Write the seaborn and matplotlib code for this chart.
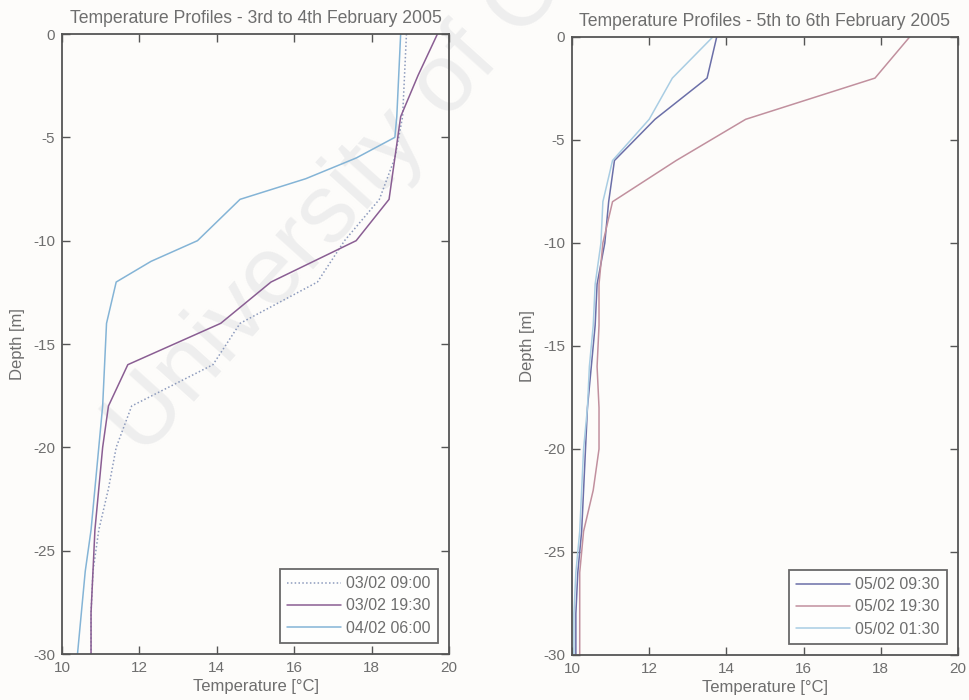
import numpy as np
import pandas as pd
import matplotlib
matplotlib.use("Agg")
import matplotlib.pyplot as plt
import seaborn as sns

# ---------------- data ----------------
depth = [0, -2, -4, -6, -8, -10, -12, -14, -16, -18, -20, -22, -24, -26, -28, -30]
depth_b = [0, -2, -4, -5, -6, -7, -8, -10, -11, -12, -14, -16, -18, -20, -22, -24, -26, -28, -30]

left_labels = ["03/02 09:00", "03/02 19:30", "04/02 06:00"]
t_0302_0900 = [18.9, 18.85, 18.8, 18.6, 18.2, 17.3, 16.6, 14.6, 13.9, 11.8, 11.4, 11.2, 10.95, 10.8, 10.75, 10.75]
t_0302_1930 = [19.7, 19.2, 18.75, 18.6, 18.45, 17.6, 15.4, 14.1, 11.7, 11.2, 11.05, 10.95, 10.85, 10.8, 10.75, 10.75]
t_0402_0600 = [18.75, 18.7, 18.65, 18.6, 17.6, 16.3, 14.6, 13.5, 12.3, 11.4, 11.15, 11.1, 11.05, 10.95, 10.85, 10.75, 10.6, 10.5, 10.4]

right_labels = ["05/02 09:30", "05/02 19:30", "05/02 01:30"]
t_0502_0930 = [13.75, 13.5, 12.15, 11.1, 10.95, 10.85, 10.65, 10.6, 10.5, 10.4, 10.35, 10.3, 10.25, 10.15, 10.1, 10.1]
t_0502_1930 = [18.75, 17.85, 14.5, 12.7, 11.05, 10.8, 10.7, 10.7, 10.65, 10.7, 10.7, 10.55, 10.3, 10.2, 10.2, 10.2]
t_0502_0130 = [13.65, 12.6, 12.0, 11.05, 10.8, 10.75, 10.6, 10.55, 10.45, 10.4, 10.3, 10.25, 10.2, 10.1, 10.05, 10.05]

x_ticks = [10, 12, 14, 16, 18, 20]
y_ticks = [0, -5, -10, -15, -20, -25, -30]

titles = ["Temperature Profiles - 3rd to 4th February 2005",
          "Temperature Profiles - 5th to 6th February 2005"]

# ---------------- build tables ----------------
def long_df(series, depths, labels):
    rows = []
    for lab, temps, d in zip(labels, series, depths):
        for t, z in zip(temps, d):
            rows.append({"Temperature": t, "Depth": z, "Profile": lab})
    return pd.DataFrame(rows)

df_left = long_df([t_0302_0900, t_0302_1930, t_0402_0600], [depth, depth, depth_b], left_labels)
df_right = long_df([t_0502_0930, t_0502_1930, t_0502_0130], [depth, depth, depth], right_labels)

# ---------------- style ----------------
sns.set_theme(style="white")
plt.rcParams["font.family"] = ["Liberation Sans", "DejaVu Sans"]
txt_col = "#6e6e6e"
spine_col = "#555555"
bg = "#fdfcfa"

fig = plt.figure(figsize=(9.69, 7.0), dpi=100, facecolor=bg)
ax1 = fig.add_axes([0.064, 0.0657, 0.3994, 0.8857])
ax2 = fig.add_axes([0.5903, 0.0643, 0.3983, 0.883])

# watermark
fig.text(0.148, 0.345, "University of Cape Town", rotation=48, rotation_mode="anchor",
         ha="left", va="baseline", fontsize=70, color="#eeeeee", zorder=-1)

left_pal = {"03/02 09:00": "#8d9bbd", "03/02 19:30": "#8a5e93", "04/02 06:00": "#84b4d6"}
left_dash = {"03/02 09:00": (1, 1.5), "03/02 19:30": "", "04/02 06:00": ""}
right_pal = {"05/02 09:30": "#6b6fa8", "05/02 19:30": "#c1909e", "05/02 01:30": "#a9cde3"}
right_dash = {"05/02 09:30": "", "05/02 19:30": "", "05/02 01:30": ""}

sns.lineplot(data=df_left, x="Temperature", y="Depth", hue="Profile", style="Profile",
             palette=left_pal, dashes=left_dash, sort=False, estimator=None,
             lw=1.1, ax=ax1)
sns.lineplot(data=df_right, x="Temperature", y="Depth", hue="Profile", style="Profile",
             palette=right_pal, dashes=right_dash, sort=False, estimator=None,
             lw=1.1, ax=ax2)

for ax, title in zip([ax1, ax2], titles):
    ax.set_facecolor("none")
    ax.set_xlim(10, 20)
    ax.set_ylim(-30, 0)
    ax.set_xticks(x_ticks)
    ax.set_yticks(y_ticks)
    ax.set_xticklabels([str(v) for v in x_ticks])
    ax.set_yticklabels([str(v) for v in y_ticks])
    ax.tick_params(direction="in", length=6, width=1, colors=spine_col,
                   labelcolor=txt_col, labelsize=11, top=True, right=True,
                   bottom=True, left=True, pad=5)
    for s in ax.spines.values():
        s.set_color(spine_col)
        s.set_linewidth(1.3)
        s.set_visible(True)
    ax.set_title(title, fontsize=12.7, color=txt_col, pad=8)
    ax.set_xlabel("Temperature [°C]", fontsize=12, color=txt_col, labelpad=3)
    ax.set_ylabel("Depth [m]", fontsize=12, color=txt_col, labelpad=6)
    leg = ax.legend(loc="lower right", frameon=True, fancybox=False, fontsize=11.5,
                    borderaxespad=0.7, handlelength=3.4, handletextpad=0.3,
                    labelspacing=0.45, borderpad=0.45, title=None)
    leg.get_frame().set_edgecolor("#444444")
    leg.get_frame().set_linewidth(1.3)
    leg.get_frame().set_facecolor("white")
    for t in leg.get_texts():
        t.set_color(txt_col)

fig.savefig("out.png", dpi=100, facecolor=bg)
